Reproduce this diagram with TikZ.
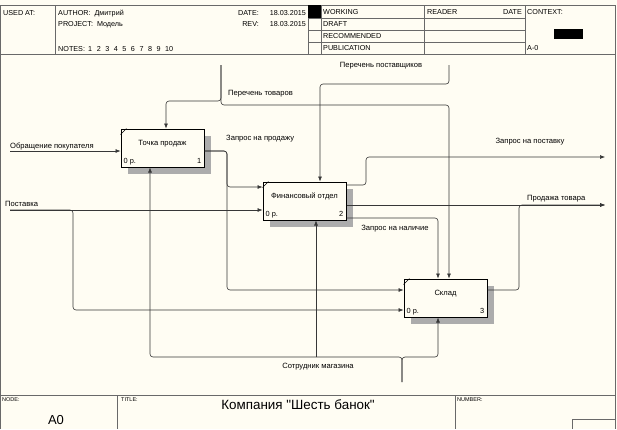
\documentclass[tikz,border=0pt]{standalone}
\usepackage{fontspec}
\setmainfont{Liberation Sans}
\newfontfamily\titlefont[Ligatures=TeXOff]{Liberation Sans}
\usetikzlibrary{arrows.meta,calc,shadows}
\definecolor{paper}{RGB}{255,253,243}
\definecolor{shade}{RGB}{172,172,172}
\definecolor{wire}{RGB}{55,55,55}
\definecolor{rule}{RGB}{105,105,105}
\tikzset{
  func/.style={draw=black, line width=1pt, fill=paper, minimum width=83pt, minimum height=38pt,
    inner sep=0pt, text depth=10pt, font=\fontsize{7.6}{8}\selectfont,
    drop shadow={shadow xshift=7pt, shadow yshift=-7pt, fill=shade, opacity=1}},
  flow/.style={draw=wire, line width=0.6pt, rounded corners=3pt, -{Latex[length=5pt,width=4pt]}},
  lbl/.style={inner sep=0pt, font=\fontsize{7.6}{8}\selectfont},
  cost/.style={inner sep=0pt, font=\fontsize{7.4}{8}\selectfont},
  hdr/.style={inner sep=0pt, anchor=base west, font=\fontsize{7.2}{8}\selectfont},
  tiny/.style={inner sep=0pt, anchor=base west, font=\fontsize{5.5}{6}\selectfont},
  frame/.style={draw=rule, line width=0.7pt},
}
\begin{document}
\begin{tikzpicture}[x=1pt,y=-1pt]
\fill[paper] (0,0) rectangle (617,429);
\useasboundingbox (0,0) rectangle (617,429);
\draw[frame] (0.5,429) -- (0.5,5) -- (615,5) -- (615,429);
\draw[frame] (0.5,54) -- (615,54);
\draw[frame] (55,5) -- (55,54);
\draw[frame] (308,5) -- (308,54);
\draw[frame] (321,5) -- (321,54);
\draw[frame] (424,5) -- (424,54);
\draw[frame] (525,5) -- (525,54);
\foreach \y in {18,30,42}
  \draw[frame] (308,\y) -- (525,\y);
\fill[black] (308,5) rectangle (321,18);
\fill[black] (554,29) rectangle (583,39);
\node[hdr] (usedat) at (3,15) {USED AT:};
\node[hdr] (author) at (58,15) {AUTHOR:\ \ Дмитрий};
\node[hdr] (project) at (58,26) {PROJECT:\ \ Модель};
\node[hdr] (notes) at (58,51) {NOTES:};
\foreach \i in {1,...,10}
  \node[hdr] (note\i) at ({88+(\i-1)*8.55},51) {\i};
\node[hdr, anchor=base east] (date) at (259,15) {DATE:};
\node[hdr, anchor=base east] (dateval) at (306,15) {18.03.2015};
\node[hdr, anchor=base east] (rev) at (259,26) {REV:};
\node[hdr, anchor=base east] (revval) at (306,26) {18.03.2015};
\node[hdr] (working) at (323,14) {WORKING};
\node[hdr] (draft) at (323,26.5) {DRAFT};
\node[hdr] (recom) at (323,38) {RECOMMENDED};
\node[hdr] (publ) at (323,50) {PUBLICATION};
\node[hdr] (reader) at (427,14) {READER};
\node[hdr, anchor=base east] (rdate) at (522,14) {DATE};
\node[hdr] (context) at (527,14) {CONTEXT:};
\node[hdr] (ctxnode) at (527,50) {A-0};

\draw[frame] (0.5,395) -- (615,395);
\draw[frame] (117,395) -- (117,429);
\draw[frame] (455,395) -- (455,429);
\draw[frame] (572,429) -- (572,419) -- (615,419);
\node[tiny] (nodelbl) at (2,401) {NODE:};
\node[tiny] (titlelbl) at (121,401) {TITLE:};
\node[tiny] (numlbl) at (457,401) {NUMBER:};
\node[inner sep=0pt, anchor=base, font=\fontsize{13}{15}\selectfont] (nodeval) at (56,424) {A0};
\node[inner sep=0pt, anchor=base, font=\titlefont\fontsize{13.4}{15}\selectfont] (title) at (298,409) {Компания "Шесть банок"};

\node[func] (tp) at (162.5,148) {Точка продаж};
\node[func] (fo) at (304.5,201) {Финансовый отдел};
\node[func] (sk) at (445.5,298) {Склад};
\foreach \b/\n in {tp/1,fo/2,sk/3}{
  \draw[line width=0.6pt] ($(\b.north west)+(0,6)$) -- ($(\b.north west)+(6,0)$);
  \node[cost, anchor=base west] (\b-c) at ($(\b.south west)+(3,-4)$) {0 р.};
  \node[cost, anchor=base east] (\b-n) at ($(\b.south east)+(-3,-4)$) {\n};
}

\coordinate (obr) at (10,151);
\coordinate (pst) at (10,210);
\coordinate (pstb) at (73,310);
\coordinate (zpr) at (227,187);
\coordinate (zpr2) at (227,290);
\coordinate (ptop) at (221,65);
\coordinate (ptl) at (166,101);
\coordinate (ptr) at (449,105);
\coordinate (pps) at (449,65);
\coordinate (ppl) at (320,84);
\coordinate (zps) at (605,157);
\coordinate (zpsb) at (366,185);
\coordinate (prt) at (605,205);
\coordinate (prtb) at (519,290);
\coordinate (zpn) at (438,218);
\coordinate (smb) at (402,382);
\coordinate (sml) at (150,357);
\coordinate (smr) at (438,357);
\coordinate (smm) at (316,357);

\draw[flow] (obr) -- (obr -| tp.west);
\draw[flow] (pst) -- (pst -| fo.west);
\draw[flow] (pst) -| (pstb) -- (pstb -| sk.west);
\draw[flow] (tp.east |- obr) -| (zpr) -- (zpr -| fo.west);
\draw[flow] (tp.east |- obr) -| (zpr2) -- (zpr2 -| sk.west);
\draw[flow] (ptop) |- (ptl) -- (ptl |- tp.north);
\draw[flow] (ptop) |- (ptr) -- (ptr |- sk.north);
\draw[flow] (pps) |- (ppl) -- (ppl |- fo.north);
\draw[flow] (fo.east |- zpsb) -- (zpsb) |- (zps);
\draw[flow] (fo.east |- prt) -- (prt);
\draw[flow] (sk.east |- prtb) -- (prtb) |- (prt);
\draw[flow] (fo.east |- zpn) -- (zpn) -- (zpn |- sk.north);
\draw[flow] (smb) |- (sml) -- (sml |- tp.south);
\draw[flow] (smb) |- (smr) -- (smr |- sk.south);
\draw[flow] (smm) -- (smm |- fo.south);

\node[lbl, anchor=west] (l-obr) at (10,146) {Обращение покупателя};
\node[lbl, anchor=west] (l-pst) at (5,204) {Поставка};
\node[lbl, anchor=west] (l-ptv) at (228,94) {Перечень товаров};
\node[lbl] (l-pps) at (381,66) {Перечень поставщиков};
\node[lbl, anchor=west] (l-zpr) at (226,139) {Запрос на продажу};
\node[lbl] (l-zps) at (530,142) {Запрос на поставку};
\node[lbl, anchor=west] (l-prt) at (527,199) {Продажа товара};
\node[lbl] (l-zpn) at (395,229) {Запрос на наличие};
\node[lbl] (l-sm) at (318,367) {Сотрудник магазина};
\end{tikzpicture}
\end{document}
